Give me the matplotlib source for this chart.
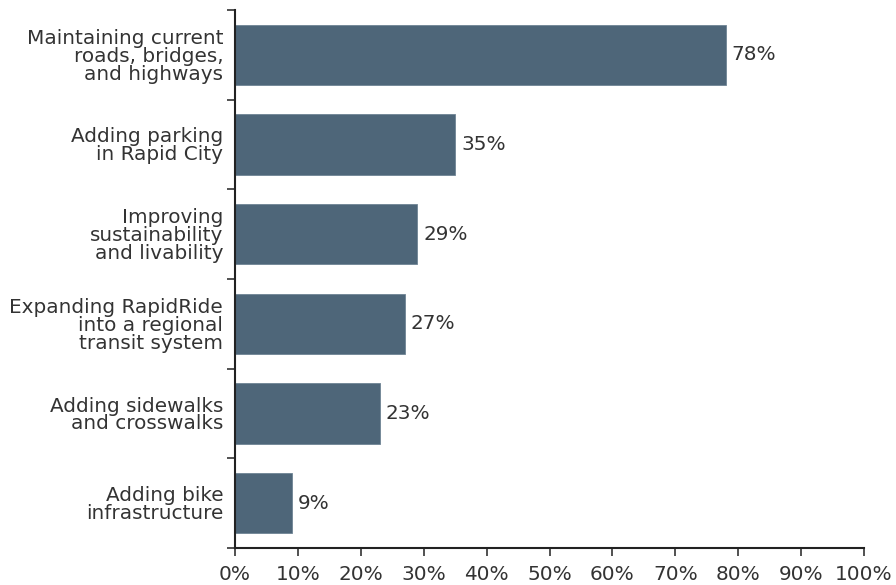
import matplotlib
matplotlib.use("Agg")
import matplotlib.pyplot as plt
import numpy as np

# Survey priorities (share of respondents)
categories = [
    "Maintaining current\nroads, bridges,\nand highways",
    "Adding parking\nin Rapid City",
    "Improving\nsustainability\nand livability",
    "Expanding RapidRide\ninto a regional\ntransit system",
    "Adding sidewalks\nand crosswalks",
    "Adding bike\ninfrastructure",
]
values = [78, 35, 29, 27, 23, 9]
x_ticks = list(range(0, 101, 10))

bar_color = "#4e6679"
text_color = "#333333"
fs = 14.4

plt.rcParams['font.family'] = ['DejaVu Sans']

fig = plt.figure(figsize=(8.96, 5.85), dpi=100)
ax = fig.add_axes([0.2623, 0.0632, 0.7020, 0.9198])

y = np.arange(len(categories))
ax.barh(y, values, height=0.67, color=bar_color, edgecolor="#6f8494", linewidth=0.6)

for yi, v in zip(y, values):
    ax.annotate(f"{v}%", (v, yi), xytext=(4.2, 0), textcoords="offset points",
                va="center", ha="left", fontsize=fs, color=text_color)

ax.set_xlim(0, 100)
ax.set_ylim(len(categories) - 0.5, -0.5)

ax.set_xticks(x_ticks)
ax.set_xticklabels([f"{t}%" for t in x_ticks], fontsize=fs, color=text_color)

# boundary ticks on y axis, labels at category centres
ax.set_yticks(np.arange(-0.5, len(categories), 1.0))
ax.set_yticklabels([])
ax.set_yticks(y, minor=True)
ax.set_yticklabels(categories, minor=True, fontsize=fs, color=text_color,
                   linespacing=0.93)
ax.tick_params(axis='y', which='minor', length=0, pad=8.5)
ax.tick_params(axis='y', which='major', length=6, width=1.2, color="#333333")
ax.tick_params(axis='x', length=6, width=1.2, color="#333333", pad=6)

for s in ['top', 'right']:
    ax.spines[s].set_visible(False)
for s in ['left', 'bottom']:
    ax.spines[s].set_linewidth(1.5)
    ax.spines[s].set_color("#222222")

fig.savefig("out.png", dpi=100)
